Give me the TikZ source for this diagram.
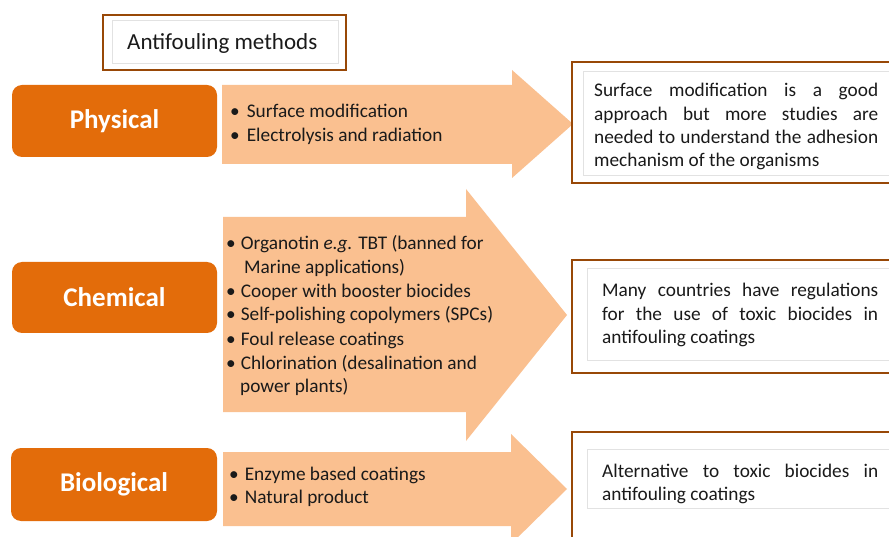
\documentclass[tikz,border=0pt]{standalone}
\usepackage{fontspec}
\setmainfont{Carlito}
\definecolor{boxorange}{HTML}{E36C0A}
\definecolor{arrowfill}{HTML}{FAC090}
\definecolor{brownline}{HTML}{984807}
\definecolor{innergray}{HTML}{E2E2E2}
\definecolor{txt}{HTML}{1A1A1A}
\newcommand{\jline}[2]{\makebox[#1][s]{#2}}
\begin{document}
\begin{tikzpicture}[x=1pt,y=-1pt,
  catbox/.style={fill=boxorange, rounded corners=10pt, text=white,
    font=\fontsize{27}{31}\selectfont\bfseries, inner sep=0pt},
  arrowbody/.style={fill=arrowfill},
  brownframe/.style={draw=brownline, line width=2.6pt},
  grayframe/.style={draw=innergray, line width=0.8pt},
  bul/.style={anchor=base west, inner sep=0pt, text=txt, font=\fontsize{19.3}{23}\selectfont},
  rtext/.style={anchor=base west, inner sep=0pt, text=txt, font=\fontsize{19.3}{23}\selectfont}]
\useasboundingbox (0,0) rectangle (889,537);
\clip (0,0) rectangle (889,537);
\fill[white] (0,0) rectangle (889,537);

% title
\draw[brownframe] (103,15) rectangle (346,70);
\draw[grayframe] (112,20) rectangle (338,63);
\node[rtext, font=\fontsize{23}{27}\selectfont] (title) at (127,50) {Antifouling methods};

% category boxes
\node[catbox, minimum width=205pt, minimum height=72pt] (phys) at (114.5,121) {Physical};
\node[catbox, minimum width=205pt, minimum height=71pt] (chem) at (114.5,297.5) {Chemical};
\node[catbox, minimum width=206pt, minimum height=73pt] (bio) at (114,484.5) {Biological};

% arrows
\fill[arrowbody] (222,85) -- (512,85) -- (512,70) -- (573,124) -- (512,178) -- (512,164) -- (222,164) -- cycle;
\fill[arrowbody] (223,217) -- (466,217) -- (466,189) -- (567,315) -- (466,441) -- (466,412) -- (223,412) -- cycle;
\fill[arrowbody] (223,452) -- (511,452) -- (511,434) -- (567,489) -- (511,544) -- (511,526) -- (223,526) -- cycle;

% physical list
\node[bul] (p1) at (230,118) {•\hspace{7pt}Surface modification};
\node[bul] (p2) at (230,142) {•\hspace{7pt}Electrolysis and radiation};

% chemical list
\node[bul] (c1) at (226,250) {•\hspace{5pt}Organotin \textit{e.g.} TBT (banned for};
\node[bul] (c2) at (244,274) {Marine applications)};
\node[bul] (c3) at (226,298) {•\hspace{5pt}Cooper with booster biocides};
\node[bul] (c4) at (226,321) {•\hspace{5pt}Self-polishing copolymers (SPCs)};
\node[bul] (c5) at (226,345) {•\hspace{5pt}Foul release coatings};
\node[bul] (c6) at (226,369) {•\hspace{5pt}Chlorination (desalination and};
\node[bul] (c7) at (240,392) {power plants)};

% biological list
\node[bul] (b1) at (229,480) {•\hspace{6pt}Enzyme based coatings};
\node[bul] (b2) at (229,503) {•\hspace{6pt}Natural product};

% right boxes
\draw[brownframe] (572,62) rectangle (900,183);
\draw[grayframe] (583,71) rectangle (900,175);
\node[rtext] (r1a) at (594,97) {\jline{284pt}{Surface modification is a good}};
\node[rtext] (r1b) at (594,121) {\jline{284pt}{approach but more studies are}};
\node[rtext] (r1c) at (594,144) {\jline{284pt}{needed to understand the adhesion}};
\node[rtext] (r1d) at (594,167) {mechanism of the organisms};

\draw[brownframe] (572,260) rectangle (900,373);
\draw[grayframe] (587,268) rectangle (900,360);
\node[rtext] (r2a) at (602,297) {\jline{276pt}{Many countries have regulations}};
\node[rtext] (r2b) at (602,320) {\jline{276pt}{for the use of toxic biocides in}};
\node[rtext] (r2c) at (602,344) {antifouling coatings};

\draw[brownframe] (572,432) rectangle (900,560);
\draw[grayframe] (587,449) rectangle (900,508);
\node[rtext] (r3a) at (602,477) {\jline{276pt}{Alternative to toxic biocides in}};
\node[rtext] (r3b) at (602,500) {antifouling coatings};
\end{tikzpicture}
\end{document}
